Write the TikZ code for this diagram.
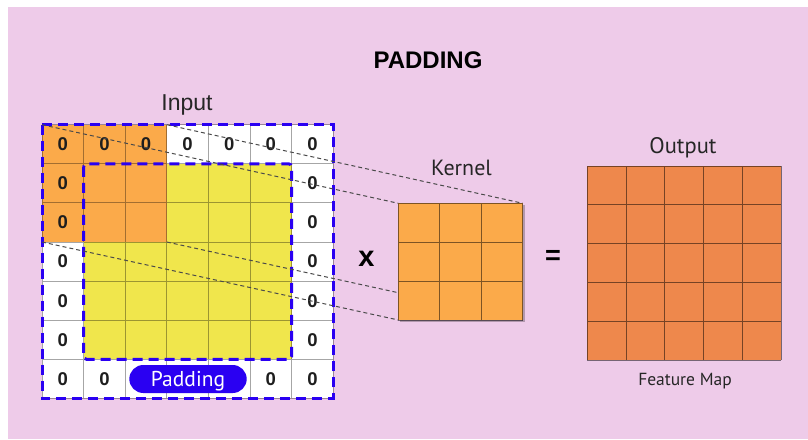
\documentclass[tikz,border=0pt]{standalone}
\usepackage{fontspec}
\newfontfamily\arialf{Liberation Sans}
\newfontfamily\myriadf{PT Sans}
\definecolor{bgpink}{HTML}{EECBE9}
\definecolor{inorange}{HTML}{FBAA4A}
\definecolor{inyellow}{HTML}{F0E64C}
\definecolor{outorange}{HTML}{EE884C}
\definecolor{padblue}{HTML}{2A00F2}
\definecolor{dashgray}{HTML}{4A4A4A}
\definecolor{zerocol}{HTML}{1E1E1E}
\begin{document}
\begin{tikzpicture}[x=1pt,y=-1pt,
  incell/.style={rectangle, inner sep=0pt, outer sep=0pt, minimum width=41.6pt, minimum height=39.1pt},
  gridln/.style={draw=black, draw opacity=0.35, line width=1pt},
  darkgrid/.style={draw=black, draw opacity=0.5, line width=1pt},
  zero/.style={font=\arialf\bfseries\fontsize{18.5}{20}\selectfont, text=zerocol, inner sep=0pt},
  bluedash/.style={draw=padblue, line width=3pt, dash pattern=on 10pt off 6pt},
  conn/.style={draw=dashgray, line width=1pt, dash pattern=on 4pt off 3pt},
  block/.style={rectangle, inner sep=0pt, outer sep=0pt}
]
\useasboundingbox (0,0) rectangle (808,439);
\fill[bgpink] (8,7) rectangle (808,439);

% title and labels
\node[font=\arialf\bfseries\fontsize{24}{26}\selectfont, anchor=base] (title) at (428,68.3) {PADDING};
\node[font=\arialf\fontsize{23}{25}\selectfont, anchor=base, text=black!85] (inlabel) at (187,110) {Input};
\node[font=\myriadf\fontsize{22}{24}\selectfont, anchor=base, text=black!85] (kerlabel) at (461.5,175.7) {Kernel};
\node[font=\myriadf\fontsize{22.5}{24}\selectfont, anchor=base, text=black!85] (outlabel) at (683,153.3) {Output};
\node[font=\myriadf\fontsize{17.5}{19}\selectfont, anchor=base, text=black!85] (fmlabel) at (685,385) {Feature Map};
\node[font=\arialf\bfseries\fontsize{29}{31}\selectfont, inner sep=0pt] (times) at (366.5,259) {x};
\node[font=\arialf\bfseries\fontsize{27}{29}\selectfont, inner sep=0pt] (equals) at (553,257.5) {=};

% input cells
\foreach \i in {0,...,6}{
  \foreach \j in {0,...,6}{
    \def\cellcol{white}
    \ifnum\i>0 \ifnum\i<6 \ifnum\j>0 \ifnum\j<6 \def\cellcol{inyellow}\fi\fi\fi\fi
    \ifnum\i<3 \ifnum\j<3 \def\cellcol{inorange}\fi\fi
    \node[incell, fill=\cellcol] (in-\i-\j) at ({42+41.6*(\i+0.5)},{124.7+39.1*(\j+0.5)}) {};
  }
}
\draw[gridln] \foreach \k in {0,...,7}{
  ({42+41.6*\k},124.7) -- ({42+41.6*\k},398.4)
  (42,{124.7+39.1*\k}) -- (333.2,{124.7+39.1*\k})
};

% zeros
\foreach \i in {0,...,6}{ \node[zero] at (in-\i-0) {0}; }
\foreach \j in {1,...,6}{ \node[zero] at (in-0-\j) {0}; \node[zero] at (in-6-\j) {0}; }
\node[zero] at (in-1-6) {0};
\node[zero] at (in-5-6) {0};

% padding pill
\node[block, fill=padblue, rounded corners=14pt, minimum width=117.4pt, minimum height=28pt] (pad) at (188,379) {};
\node[font=\myriadf\fontsize{21.5}{23}\selectfont, text=white, anchor=base, inner sep=0pt] (padtxt) at (188,386.4) {Padding};

% blue dashed frames
\draw[bluedash] (42,124.7) rectangle (333.2,398.4);
\draw[bluedash, rounded corners=3pt] (83.6,163.8) rectangle (291.6,359.3);

% window of the kernel on the input
\node[block, minimum width=124.8pt, minimum height=117.3pt] (win) at (104.4,183.35) {};
% kernel block
\node[block, minimum width=124.5pt, minimum height=116.7pt] (kernel) at (460.55,261.65) {};

% connectors (under the kernel)
\draw[conn] (win.north west) -- (kernel.north west);
\draw[conn] (win.north east) -- (kernel.north east);
\draw[conn] (win.south west) -- (kernel.south west);
\draw[conn] (win.south east) -- (kernel.south east);

% kernel drawing
\fill[black, opacity=0.25] ([shift={(2,2)}]kernel.north west) rectangle ([shift={(2,2)}]kernel.south east);
\fill[inorange] (kernel.north west) rectangle (kernel.south east);
\draw[darkgrid] \foreach \k in {0,...,3}{
  ({398.3+41.5*\k},203.3) -- ({398.3+41.5*\k},320)
  (398.3,{203.3+38.9*\k}) -- (522.8,{203.3+38.9*\k})
};

% output feature map
\node[block, fill=outorange, minimum width=193.7pt, minimum height=194pt] (output) at (684.15,263) {};
\draw[darkgrid] \foreach \k in {0,...,5}{
  ({587.3+38.74*\k},166) -- ({587.3+38.74*\k},360)
  (587.3,{166+38.8*\k}) -- (781,{166+38.8*\k})
};
\end{tikzpicture}
\end{document}
